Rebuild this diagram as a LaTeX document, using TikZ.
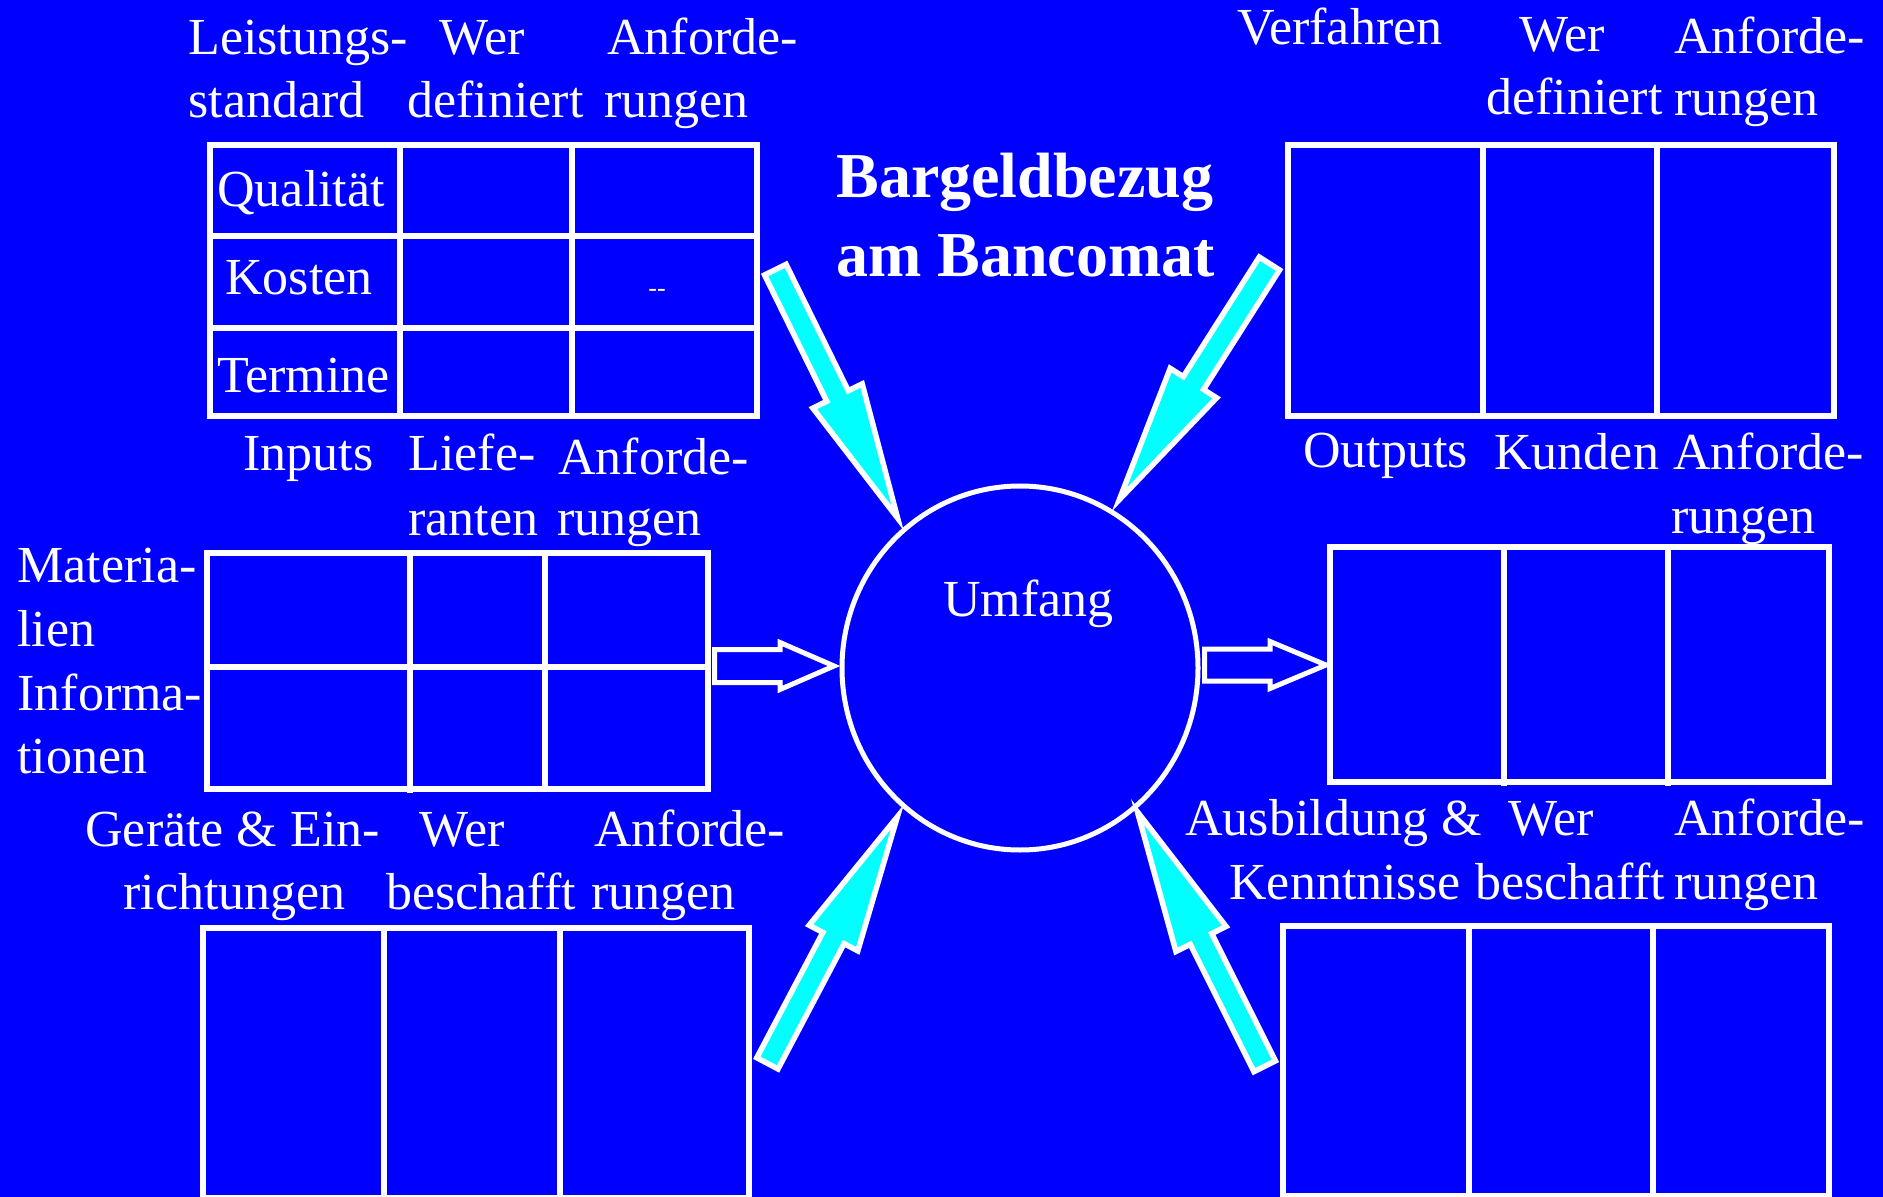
\documentclass[tikz,border=0pt]{standalone}
\usepackage{fontspec}
\setmainfont{Liberation Serif}
\usetikzlibrary{calc,shapes.geometric}
\definecolor{bgblue}{HTML}{0000FF}
\definecolor{cyanfill}{HTML}{00FFFF}
\newcommand\blockarrow[6]{% style, tail, tip, halfshaft, halfhead, headlen
  \coordinate (ba-t) at (#2);
  \coordinate (ba-p) at (#3);
  \coordinate (ba-h) at ($(ba-p)!#6!(ba-t)$);
  \filldraw[#1] ($(ba-t)!#4!90:(ba-p)$) -- ($(ba-h)!#4!90:(ba-p)$) -- ($(ba-h)!#5!90:(ba-p)$) -- (ba-p) -- ($(ba-h)!#5!-90:(ba-p)$) -- ($(ba-h)!#4!-90:(ba-p)$) -- ($(ba-t)!#4!-90:(ba-p)$) -- cycle;
}
\tikzset{
  lbl/.style={anchor=base west, inner sep=0pt, text=white, font=\fontsize{26pt}{31pt}\selectfont},
  ttl/.style={anchor=base west, inner sep=0pt, text=white, font=\fontsize{32pt}{37pt}\selectfont\bfseries},
  small/.style={anchor=base, inner sep=0pt, text=white, font=\fontsize{13pt}{15pt}\selectfont},
  tbl/.style={draw=white, line width=2.75pt},
  cyarr/.style={fill=cyanfill, draw=white, line width=2.75pt, line join=miter},
  hollow/.style={fill=bgblue, draw=white, line width=2.5pt, line join=miter},
  ring/.style={draw=white, line width=2.5pt, ellipse, inner sep=0pt}
}
\begin{document}
\begin{tikzpicture}[x=0.5pt,y=-0.5pt]
\useasboundingbox (0,0) rectangle (1883,1197);
\clip (0,0) rectangle (1883,1197);
\fill[bgblue] (0,0) rectangle (1883,1197);

% ---------- title ----------
\node[ttl] (title1) at (836,198) {Bargeldbezug};
\node[ttl] (title2) at (836,277) {am Bancomat};

% ---------- top-left table ----------
\node[lbl] (tl1) at (188,55) {Leistungs-};
\node[lbl] (tl2) at (188,118) {standard};
\node[lbl] (tl3) at (439,55) {Wer};
\node[lbl] (tl4) at (407,118) {definiert};
\node[lbl] (tl5) at (607,55) {Anforde-};
\node[lbl] (tl6) at (604,118) {rungen};
\draw[tbl] (210,145) rectangle (757,416);
\draw[tbl] (400,145) -- (400,416);
\draw[tbl] (572,145) -- (572,416);
\draw[tbl] (210,236) -- (757,236);
\draw[tbl] (210,328) -- (757,328);
\node[lbl] (q) at (217,207) {Qualität};
\node[lbl] (k) at (225,295) {Kosten};
\node[lbl] (t) at (217,393) {Termine};
\node[small] (dd) at (657,297) {-{}-};

% ---------- top-right table ----------
\node[lbl] (tr1) at (1237,45) {Verfahren};
\node[lbl] (tr2) at (1519,52) {Wer};
\node[lbl] (tr3) at (1674,54) {Anforde-};
\node[lbl] (tr4) at (1486,115) {definiert};
\node[lbl] (tr5) at (1674,116) {rungen};
\draw[tbl] (1288,145) rectangle (1834,416);
\draw[tbl] (1483,145) -- (1483,416);
\draw[tbl] (1657,145) -- (1657,416);

% ---------- middle-left table ----------
\node[lbl] (ml1) at (243,471) {Inputs};
\node[lbl] (ml2) at (408,471) {Liefe-};
\node[lbl] (ml3) at (558,475) {Anforde-};
\node[lbl] (ml4) at (408,535) {ranten};
\node[lbl] (ml5) at (557,535) {rungen};
\node[lbl] (ml6) at (17,582) {Materia-};
\node[lbl] (ml7) at (17,646) {lien};
\node[lbl] (ml8) at (17,710) {Informa-};
\node[lbl] (ml9) at (17,773) {tionen};
\draw[tbl] (207,553) rectangle (708,789);
\draw[tbl] (410,553) -- (410,793);
\draw[tbl] (545,553) -- (545,789);
\draw[tbl] (207,667) -- (708,667);

% ---------- middle-right table ----------
\node[lbl] (mr1) at (1303,468) {Outputs};
\node[lbl] (mr2) at (1494,470) {Kunden};
\node[lbl] (mr3) at (1673,470) {Anforde-};
\node[lbl] (mr4) at (1671,533) {rungen};
\draw[tbl] (1330,547) rectangle (1829,782);
\draw[tbl] (1504,547) -- (1504,786);
\draw[tbl] (1668,547) -- (1668,786);

% ---------- bottom-left table ----------
\node[lbl] (bl1) at (85,846) {Geräte \& Ein-};
\node[lbl] (bl2) at (419,846) {Wer};
\node[lbl] (bl3) at (594,846) {Anforde-};
\node[lbl] (bl4) at (123,909) {richtungen};
\node[lbl] (bl5) at (386,909) {beschafft};
\node[lbl] (bl6) at (591,909) {rungen};
\draw[tbl] (203,928) rectangle (749,1198);
\draw[tbl] (384,928) -- (384,1198);
\draw[tbl] (560,928) -- (560,1198);

% ---------- bottom-right table ----------
\node[lbl] (br1) at (1185,835) {Ausbildung \&};
\node[lbl] (br2) at (1508,835) {Wer};
\node[lbl] (br3) at (1674,835) {Anforde-};
\node[lbl] (br4) at (1229,899) {Kenntnisse};
\node[lbl] (br5) at (1475,899) {beschafft};
\node[lbl] (br6) at (1674,899) {rungen};
\draw[tbl] (1283,926) rectangle (1829,1196);
\draw[tbl] (1469,926) -- (1469,1196);
\draw[tbl] (1653,926) -- (1653,1196);

% ---------- centre ----------
\node[ring, minimum width=178pt, minimum height=182pt] (umfang) at (1020,668) {};
\node[lbl] (umfangtxt) at (943,616) {Umfang};

% ---------- hollow arrows ----------
\coordinate (mlT) at (714.5,666);
\coordinate (mlP) at (834,666);
\blockarrow{hollow}{mlT}{mlP}{8.25pt}{11.75pt}{27pt}
\coordinate (mrT) at (1204.5,665);
\coordinate (mrP) at (1326,665);
\blockarrow{hollow}{mrT}{mrP}{8pt}{11.75pt}{28pt}

% ---------- cyan arrows ----------
\coordinate (tlA) at (774,267);
\coordinate (tlB) at (902,527);
\blockarrow{cyarr}{$(tlA)!1.5pt!(tlB)$}{$(tlB)!5pt!(tlA)$}{6pt}{13.75pt}{68pt}
\coordinate (trA) at (1271,261);
\coordinate (trB) at (1114,508);
\blockarrow{cyarr}{$(trA)!1.5pt!(trB)$}{$(trB)!5pt!(trA)$}{6pt}{13.75pt}{69pt}
\coordinate (blA) at (766,1066);
\coordinate (blB) at (902,808);
\blockarrow{cyarr}{$(blA)!1.5pt!(blB)$}{$(blB)!5pt!(blA)$}{6pt}{13.75pt}{68.5pt}
\coordinate (brA) at (1266,1069);
\coordinate (brB) at (1133,803);
\blockarrow{cyarr}{$(brA)!1.5pt!(brB)$}{$(brB)!5pt!(brA)$}{6pt}{14pt}{71pt}
\end{tikzpicture}
\end{document}
